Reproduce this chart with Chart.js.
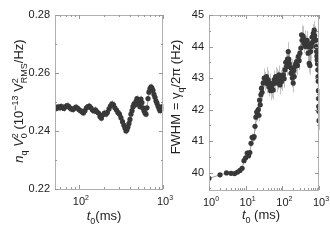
<!DOCTYPE html>
<html>
<head>
<meta charset="utf-8">
<script src="https://cdn.jsdelivr.net/npm/chart.js@4.4.0/dist/chart.umd.min.js"></script>
<style>
html, body { margin: 0; padding: 0; background: #fff; }
#wrap { position: relative; width: 330px; height: 248px; }
canvas { position: absolute; left: 0; top: 0; }
</style>
</head>
<body>
<div id="wrap">
  <canvas id="left" width="330" height="248"></canvas>
  <canvas id="right" width="330" height="248"></canvas>
</div>
<script>
// left panel: n_q V0^2 vs t0 (ms)
const leftT = [52, 54, 56, 59, 61, 64, 66, 69, 72, 75,
  78, 81, 85, 88, 92, 96, 100, 104, 109, 113,
  118, 123, 128, 133, 139, 145, 151, 157, 164, 171,
  178, 185, 193, 201, 210, 218, 228, 237, 247, 258,
  268, 280, 291, 304, 316, 330, 343,
  353, 363, 373, 383, 394, 405, 416, 428, 439, 452,
  464, 477, 490, 504, 518, 532, 547, 562, 578, 594,
  611, 628, 645, 663, 681, 700, 720, 740, 760, 781,
  803, 825, 848, 872, 896, 921, 947, 973, 1000];
const leftV = [0.2482, 0.2478, 0.2483, 0.2480, 0.2485, 0.2482, 0.2478, 0.2483, 0.2488, 0.2486,
  0.2480, 0.2476, 0.2474, 0.2478, 0.2482, 0.2479, 0.2474, 0.2470, 0.2466, 0.2462,
  0.2470, 0.2480, 0.2484, 0.2486, 0.2480, 0.2472, 0.2469, 0.2473, 0.2466, 0.2462,
  0.2450, 0.2444, 0.2456, 0.2462, 0.2458, 0.2464, 0.2476, 0.2486, 0.2494, 0.2490,
  0.2480, 0.2472, 0.2464, 0.2458, 0.2446, 0.2432, 0.2420,
  0.2410, 0.2400, 0.2404, 0.2414, 0.2426, 0.2440, 0.2458, 0.2470, 0.2484, 0.2494,
  0.2490, 0.2502, 0.2512, 0.2504, 0.2492, 0.2484, 0.2510, 0.2498, 0.2480, 0.2470,
  0.2462, 0.2458, 0.2480, 0.2512, 0.2534, 0.2546, 0.2552, 0.2548, 0.2540, 0.2526,
  0.2516, 0.2504, 0.2496, 0.2486, 0.2478, 0.2470, 0.2478, 0.2484, 0.2480];
const leftErr = 0.0012;

// right panel: FWHM vs t0 (ms)
const rightT = [1, 2, 3, 4, 5, 6, 7, 8, 9, 10,
  11, 12, 13, 14, 15, 16, 17, 18, 19, 20,
  21, 22, 23, 24, 25, 26, 27, 28, 30, 32,
  34, 37, 39, 41, 43, 46, 48, 51, 54, 56,
  60, 63, 66, 70, 73, 77, 81, 86, 90, 95,
  100, 106, 112, 118, 124, 131, 138, 145, 150, 155,
  163, 172, 180, 187, 193, 198, 205, 211, 220, 232,
  244, 258, 272, 287, 302, 322, 335, 345, 355, 370,
  390, 410, 430, 455, 470, 485, 505, 520, 540, 565,
  590, 610, 625, 650, 675, 700, 720, 740, 760, 785,
  810, 835, 860, 875, 890, 910, 930, 945, 955, 965,
  975, 985, 995, 1000];
const rightV = [39.82, 39.93, 39.99, 39.98, 39.97, 40.02, 40.07, 40.14, 40.38, 40.47,
  40.62, 40.54, 40.64, 40.93, 41.12, 41.10, 41.14, 41.47, 41.76, 41.92,
  41.85, 42.00, 41.82, 42.30, 42.15, 42.47, 42.68, 42.55, 42.84, 43.00,
  42.90, 43.05, 42.82, 42.94, 42.72, 42.84, 42.60, 42.68, 42.80, 42.62,
  42.95, 42.84, 43.05, 43.00, 42.85, 42.94, 43.10, 42.78, 42.95, 42.89,
  43.05, 43.10, 42.98, 43.26, 43.50, 43.37, 43.60, 43.84, 43.60, 43.47,
  43.35, 43.15, 43.30, 43.00, 43.20, 42.84, 43.25, 43.05, 43.37, 43.45,
  43.52, 43.40, 43.68, 43.55, 43.79, 43.95, 44.37, 44.20, 44.35, 44.31,
  44.10, 44.21, 44.00, 44.05, 44.20, 44.10, 43.79, 44.00, 43.47, 43.40,
  43.84, 44.00, 44.10, 44.30, 44.15, 44.42, 44.30, 44.52, 44.35, 44.20,
  44.21, 44.00, 43.84, 43.70, 43.58, 43.45, 43.26, 43.05, 42.90, 42.60,
  42.35, 42.10, 41.95, 41.65];
const rightErr = [0.02, 0.03, 0.03, 0.03, 0.03, 0.04, 0.04, 0.05, 0.06, 0.08,
  0.10, 0.10, 0.12, 0.12, 0.12, 0.12, 0.14, 0.15, 0.15, 0.20,
  0.20, 0.20, 0.20, 0.22, 0.22, 0.25, 0.25, 0.25, 0.25, 0.30,
  0.30, 0.30, 0.30, 0.30, 0.30, 0.30, 0.30, 0.30, 0.30, 0.30,
  0.30, 0.30, 0.30, 0.30, 0.30, 0.30, 0.30, 0.30, 0.30, 0.30,
  0.30, 0.30, 0.30, 0.30, 0.30, 0.30, 0.30, 0.30, 0.30, 0.30,
  0.30, 0.30, 0.30, 0.30, 0.30, 0.30, 0.30, 0.30, 0.30, 0.30,
  0.30, 0.30, 0.30, 0.30, 0.30, 0.30, 0.30, 0.30, 0.30, 0.30,
  0.30, 0.30, 0.30, 0.30, 0.30, 0.30, 0.30, 0.30, 0.30, 0.30,
  0.30, 0.30, 0.30, 0.30, 0.30, 0.30, 0.30, 0.30, 0.30, 0.30,
  0.30, 0.30, 0.30, 0.30, 0.30, 0.30, 0.30, 0.30, 0.30, 0.30,
  0.30, 0.30, 0.30, 0.30];

// ticks
const leftYTicks = [0.22, 0.24, 0.26, 0.28];
const leftYLabels = ['0.22', '0.24', '0.26', '0.28'];
const leftYMinor = [0.23, 0.25, 0.27];
const leftXTicks = [100, 1000];
const leftXExp = ['2', '3'];
const rightYTicks = [40, 41, 42, 43, 44, 45];
const rightYLabels = ['40', '41', '42', '43', '44', '45'];
const rightYMinor = [39.5, 40.5, 41.5, 42.5, 43.5, 44.5];
const rightXTicks = [1, 10, 100, 1000];
const rightXExp = ['0', '1', '2', '3'];

const FONT = '"Liberation Sans", Arial, Helvetica, sans-serif';
const TXT = '#222';

function runFont(r, size) {
  return (r.it ? 'italic ' : '') + size + 'px ' + FONT;
}

// draws text with sub/superscripts, centred on (x, y)
function drawRich(ctx, runs, size, x, y, rot) {
  ctx.save();
  ctx.translate(x, y);
  ctx.rotate(rot);
  ctx.fillStyle = TXT;
  ctx.textBaseline = 'alphabetic';
  ctx.textAlign = 'left';
  const small = Math.round(size * 0.68);
  let total = 0;
  const widths = runs.map(r => {
    ctx.font = runFont(r, size);
    const w = ctx.measureText(r.t).width;
    ctx.font = small + 'px ' + FONT;
    const ws = Math.max(r.sub ? ctx.measureText(r.sub).width : 0,
                        r.sup ? ctx.measureText(r.sup).width : 0);
    total += w + ws;
    return [w, ws];
  });
  let cx = -total / 2;
  runs.forEach((r, i) => {
    ctx.font = runFont(r, size);
    ctx.fillText(r.t, cx, 0);
    cx += widths[i][0];
    ctx.font = small + 'px ' + FONT;
    if (r.sup) ctx.fillText(r.sup, cx, -size * 0.42);
    if (r.sub) ctx.fillText(r.sub, cx, size * 0.28);
    cx += widths[i][1];
  });
  ctx.restore();
}

function axesPlugin(cfg) {
  return {
    id: 'axesDraw',
    beforeDatasetsDraw(chart) {
      const ctx = chart.ctx, xs = chart.scales.x, ys = chart.scales.y;
      ctx.save();
      ctx.strokeStyle = '#c4c4c4';
      ctx.lineWidth = 1;
      cfg.t.forEach((t, i) => {
        const e = Array.isArray(cfg.err) ? cfg.err[i] : cfg.err;
        const px = Math.round(xs.getPixelForValue(t)) + 0.5;
        ctx.beginPath();
        ctx.moveTo(px, ys.getPixelForValue(cfg.v[i] - e));
        ctx.lineTo(px, ys.getPixelForValue(cfg.v[i] + e));
        ctx.stroke();
      });
      ctx.restore();
    },
    afterDraw(chart) {
      const ctx = chart.ctx, a = chart.chartArea, xs = chart.scales.x, ys = chart.scales.y;
      ctx.save();
      ctx.strokeStyle = '#b0b0b0';
      ctx.lineWidth = 1;
      ctx.strokeRect(Math.round(a.left) + 0.5, Math.round(a.top) + 0.5,
                     Math.round(a.right - a.left) - 1, Math.round(a.bottom - a.top));
      ctx.strokeStyle = '#999';
      const line = (x1, y1, x2, y2) => { ctx.beginPath(); ctx.moveTo(x1, y1); ctx.lineTo(x2, y2); ctx.stroke(); };
      // y ticks
      const yTick = (v, len) => {
        const py = Math.round(ys.getPixelForValue(v)) + 0.5;
        line(a.left, py, a.left + len, py);
        line(a.right, py, a.right - len, py);
      };
      cfg.yTicks.forEach(v => yTick(v, 4));
      cfg.yMinor.forEach(v => yTick(v, 2));
      // x ticks (log)
      const xTick = (v, len) => {
        const px = Math.round(xs.getPixelForValue(v)) + 0.5;
        line(px, a.bottom, px, a.bottom - len);
        line(px, a.top, px, a.top + len);
      };
      for (let d = 1; d < 1000; d *= 10) {
        for (let m = 2; m < 10; m++) {
          const v = d * m;
          if (v > xs.min && v < xs.max) xTick(v, 2);
        }
      }
      cfg.xTicks.forEach(v => xTick(v, 4));
      // tick labels
      ctx.fillStyle = TXT;
      ctx.font = '11px ' + FONT;
      ctx.textAlign = 'right';
      ctx.textBaseline = 'middle';
      cfg.yTicks.forEach((v, i) => ctx.fillText(cfg.yLabels[i], a.left - 5, ys.getPixelForValue(v)));
      cfg.xTicks.forEach((v, i) => {
        drawRich(ctx, [{ t: '10', sup: cfg.xExp[i] }], 11, xs.getPixelForValue(v) + 2, a.bottom + 16, 0);
      });
      // axis titles
      drawRich(ctx, cfg.xTitle, 13, cfg.xTitlePos[0], cfg.xTitlePos[1], 0);
      drawRich(ctx, cfg.yTitle, 13, cfg.yTitlePos[0], cfg.yTitlePos[1], -Math.PI / 2);
      ctx.restore();
    }
  };
}

function makePanel(id, cfg) {
  return new Chart(document.getElementById(id), {
    type: 'scatter',
    data: {
      datasets: [{
        data: cfg.t.map((t, i) => ({ x: t, y: cfg.v[i] })),
        showLine: true,
        borderColor: '#8c8c8c',
        borderWidth: 0.8,
        pointRadius: 2.6,
        pointBackgroundColor: '#383838',
        pointBorderWidth: 0
      }]
    },
    options: {
      responsive: false,
      animation: false,
      layout: { padding: cfg.pad },
      plugins: { legend: { display: false }, tooltip: { enabled: false } },
      scales: {
        x: { type: 'logarithmic', display: false, min: cfg.xMin, max: cfg.xMax },
        y: { type: 'linear', display: false, min: cfg.yMin, max: cfg.yMax }
      }
    },
    plugins: [axesPlugin(cfg)]
  });
}

makePanel('left', {
  t: leftT, v: leftV, err: leftErr,
  xMin: 52, xMax: 1000, yMin: 0.22, yMax: 0.28,
  pad: { left: 55, top: 15, right: 167, bottom: 59 },
  yTicks: leftYTicks, yLabels: leftYLabels, yMinor: leftYMinor,
  xTicks: leftXTicks, xExp: leftXExp,
  xTitle: [{ t: 't', it: true, sub: '0' }, { t: '(ms)' }],
  xTitlePos: [104, 220],
  yTitle: [{ t: 'n', it: true, sub: 'q' }, { t: ' ' }, { t: 'V', it: true, sub: '0', sup: '2' },
           { t: ' (10', sup: '\u221213' }, { t: ' V', sup: '2', sub: 'RMS' }, { t: '/Hz)' }],
  yTitlePos: [23, 101]
});

makePanel('right', {
  t: rightT, v: rightV, err: rightErr,
  xMin: 1, xMax: 1000, yMin: 39.45, yMax: 45,
  pad: { left: 209, top: 15, right: 11, bottom: 58 },
  yTicks: rightYTicks, yLabels: rightYLabels, yMinor: rightYMinor,
  xTicks: rightXTicks, xExp: rightXExp,
  xTitle: [{ t: 't', it: true, sub: '0' }, { t: ' (ms)' }],
  xTitlePos: [261, 219],
  yTitle: [{ t: 'FWHM = \u03b3', sub: 'q' }, { t: '/2\u03c0 (Hz)' }],
  yTitlePos: [180, 97]
});
</script>
</body>
</html>
